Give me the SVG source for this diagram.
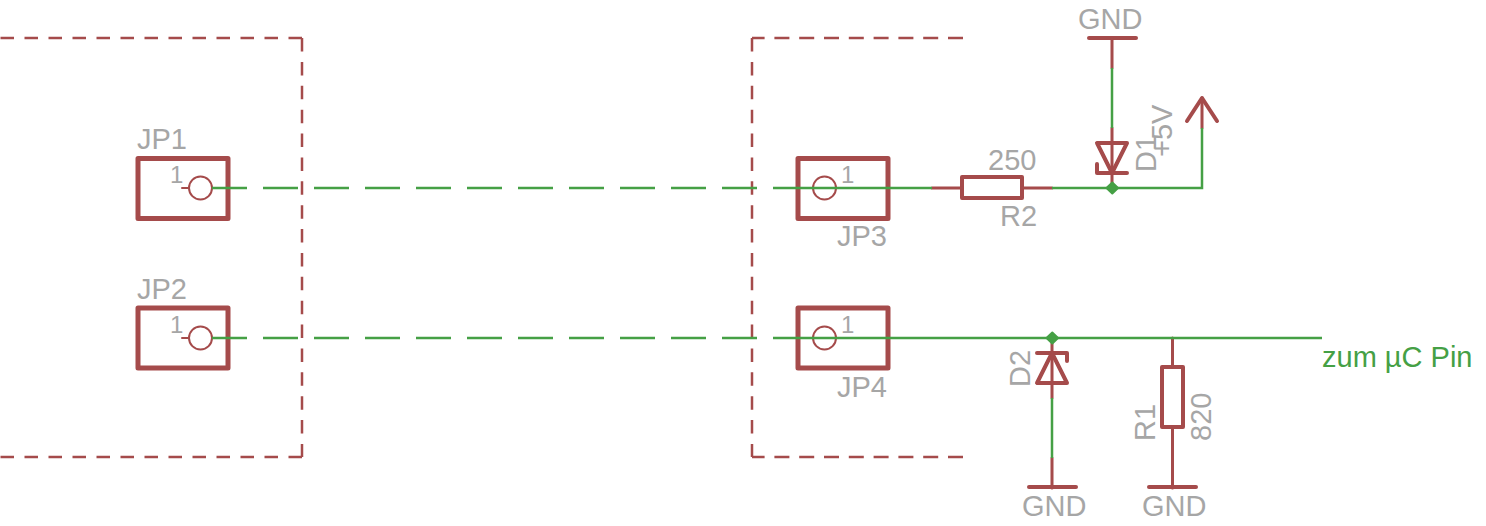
<svg xmlns="http://www.w3.org/2000/svg" width="1486" height="526" viewBox="0 0 1486 526">
<style>
text{font-family:"Liberation Sans",Arial,sans-serif;font-size:29px;fill:#a6a6a6}
.s{font-size:24px}
.b{fill:none;stroke:#a54b4b;stroke-linecap:round;stroke-linejoin:round}
.w{fill:none;stroke:#45a045;stroke-width:2.500}
.d{fill:none;stroke:#a54b4b;stroke-width:2.500;stroke-dasharray:13.500 10.500}
.v{stroke-dasharray:13.500 10.380}
.r{stroke-dasharray:15 9.800}
.jp{stroke-width:5}.p{stroke-width:2}.t{stroke-width:3}.h{stroke-width:4}
.j{fill:#45a045;stroke:#45a045;stroke-width:2;stroke-linejoin:round}
</style>
<rect width="1486" height="526" fill="#fff"/>
<g id="frames"><path class="d" d="M302 38H0M302 457H0"/><path class="d v" d="M302 38V457M752 38V457"/><path class="d r" d="M963 38H752M963 457H752"/></g>
<g id="JP1"><rect class="b jp" x="138" y="158.500" width="90" height="60"/><circle class="b p" cx="200.500" cy="188" r="11.500"/><path class="b p" d="M182 188H189"/><text class="s" x="170" y="183">1</text><text x="137" y="149">JP1</text></g>
<g id="JP2"><rect class="b jp" x="138" y="308" width="90" height="60"/><circle class="b p" cx="200.500" cy="338" r="11.500"/><path class="b p" d="M182 338H189"/><text class="s" x="170" y="333">1</text><text x="137" y="299">JP2</text></g>
<g id="JP3"><rect class="b jp" x="798" y="158.500" width="90" height="60"/><circle class="b p" cx="824.500" cy="188" r="11.500"/><path class="b p" d="M836 188H843"/><text class="s" x="841" y="183">1</text><text x="837" y="246">JP3</text></g>
<g id="JP4"><rect class="b jp" x="798" y="308" width="90" height="60"/><circle class="b p" cx="824.500" cy="338" r="11.500"/><path class="b p" d="M836 338H843"/><text class="s" x="841" y="333">1</text><text x="837" y="397">JP4</text></g>
<g id="R2"><rect class="b h" x="962" y="177" width="60" height="21"/><path class="b t" d="M932 188H962M1022 188H1052"/><text x="988" y="170">250</text><text x="1000" y="226">R2</text></g>
<g id="R1"><rect class="b h" x="1162" y="367" width="21" height="60"/><path class="b t" d="M1172.500 338V367M1172.500 427V488"/><text transform="translate(1155 441) rotate(-90)">R1</text><text transform="translate(1211 441) rotate(-90)">820</text></g>
<g id="D1"><path class="b h" d="M1097 143H1127L1112 173ZM1097 164V173H1127"/><path class="b t" d="M1112 128V188"/><text transform="translate(1156 172) rotate(-90)">D1</text></g>
<g id="D2"><path class="b h" d="M1037 383H1067L1052 353ZM1037 353H1067V361"/><path class="b t" d="M1052 338V398"/><text transform="translate(1030 387) rotate(-90)">D2</text></g>
<g id="GND1"><path class="b h" d="M1089 38H1136"/><path class="b t" d="M1112 38V68"/><text x="1078" y="29">GND</text></g>
<g id="GND2"><path class="b h" d="M1029 487H1076"/><path class="b t" d="M1052 458V488"/><text x="1022" y="516">GND</text></g>
<g id="GND3"><path class="b h" d="M1149 487H1196"/><text x="1142" y="516">GND</text></g>
<g id="P5V"><path class="b h" d="M1187 121L1202 98L1217 121"/><path class="b t" d="M1202 98V128"/><text transform="translate(1172 157) rotate(-90)">+5V</text></g>
<g id="connectors">
<path class="w" stroke-dasharray="35 16" d="M212 188H796"/>
<path class="w" stroke-dasharray="35 16" d="M212 338H796"/>
<path class="w" d="M796 188H932M1052 188H1202V128M1112 68V128M796 338H1322M1052 398V458"/>
<path class="j" d="M1112.300 182.500L1118 188L1112.300 193.500L1106.500 188Z"/>
<path class="j" d="M1052.300 332.500L1058 338L1052.300 343.500L1046.500 338Z"/>
</g>
<text id="netlabel" x="1322" y="367" style="fill:#45a045">zum µC Pin</text>
</svg>
